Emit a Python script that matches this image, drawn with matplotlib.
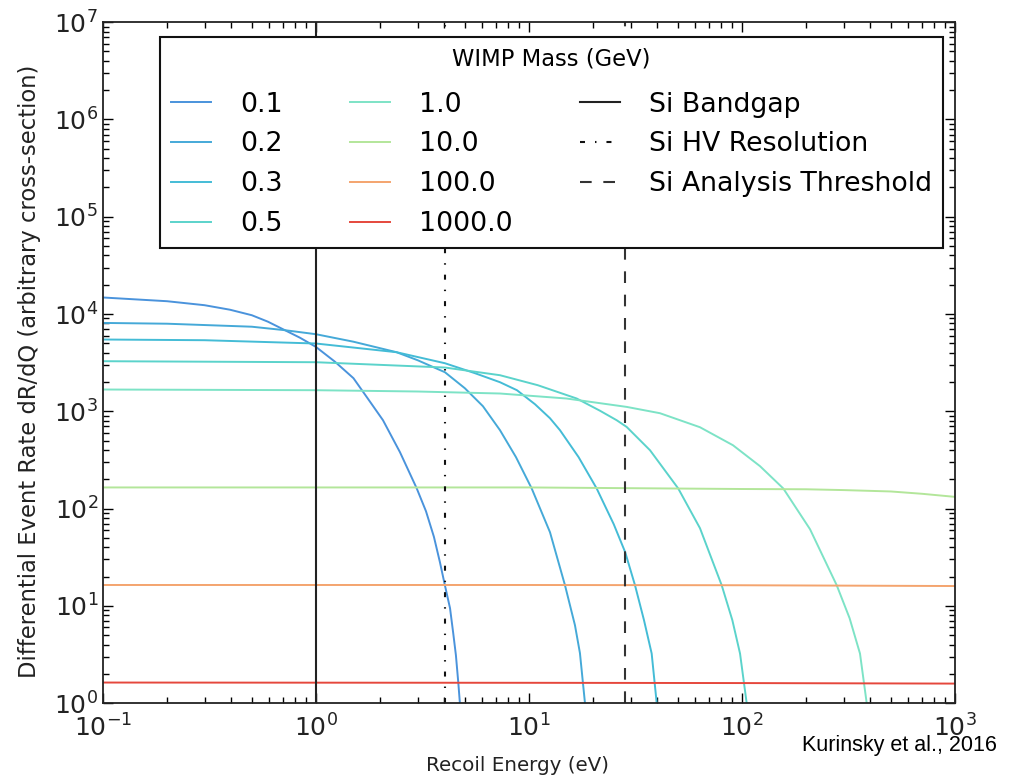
import matplotlib
matplotlib.use('Agg')
import matplotlib.pyplot as plt

# WIMP masses (GeV) and read-off curves: recoil energy (eV) vs dR/dQ
MASSES = ['0.1', '0.2', '0.3', '0.5', '1.0', '10.0', '100.0', '1000.0']

x_01 = [0.1, 0.2, 0.3, 0.395, 0.5, 0.595, 0.715, 0.841, 1.0, 1.228, 1.5, 1.73,
        2.064, 2.48, 2.97, 3.285, 3.58, 3.82, 4.03, 4.26, 4.41, 4.54, 4.66, 4.74]
y_01 = [14790, 13540, 12320, 11070, 9720, 8340, 6820, 5710, 4590, 3235, 2190, 1406,
        810, 380, 162, 94, 51.2, 28.1, 16.3, 9.47, 5.24, 3.11, 1.61, 1.0]

x_02 = [0.1, 0.2, 0.5, 0.715, 1.0, 1.5, 2.39, 3.0, 4.03, 5.0, 6.08, 7.31, 8.69,
        10.3, 12.55, 14.76, 16.44, 17.35, 18.32]
y_02 = [8100, 7950, 7405, 6820, 6200, 5193, 4050, 3352, 2523, 1727, 1128, 640, 338,
        161, 57.2, 16.3, 6.33, 3.27, 1.0]

x_03 = [0.1, 0.3, 1.0, 2.39, 4.03, 5.58, 7.31, 8.78, 10.67, 12.55, 13.98, 17.1,
        20.79, 25.0, 28.3, 31.46, 34.67, 37.67, 39.78]
y_03 = [5470, 5380, 4976, 4050, 3121, 2464, 1991, 1648, 1183, 849, 640, 338,
        161, 69.1, 35.6, 16.3, 7.13, 3.24, 1.0]

x_05 = [0.1, 1.0, 4.03, 7.31, 11.0, 16.75, 21.54, 25.8, 28.75, 37.0, 50.2, 63.5,
        80.3, 90.1, 97.9, 105.2]
y_05 = [3273, 3196, 2819, 2350, 1855, 1354, 1014, 810, 691, 398, 161, 62.9,
        16.3, 7.13, 3.24, 1.0]

x_1 = [0.1, 1.0, 3.0, 7.31, 15.0, 28.75, 41.2, 63.5, 90.7, 121.5, 156.3,
       208.6, 278.4, 320, 358, 385]
y_1 = [1675, 1648, 1598, 1524, 1354, 1110, 956, 686, 448, 273, 161,
       61.4, 16.3, 7.47, 3.24, 1.0]

x_10 = [0.1, 10, 100, 200, 300, 500, 700, 1000]
y_10 = [165, 165, 159, 158, 155, 150, 142, 132]

x_100 = [0.1, 10, 100, 1000]
y_100 = [16.4, 16.4, 16.3, 16.0]

x_1000 = [0.1, 10, 100, 1000]
y_1000 = [1.63, 1.62, 1.61, 1.59]

# thresholds (eV)
SI_BANDGAP = 1.0
SI_HV_RES = 4.03
SI_ANALYSIS = 28.3

COLOURS = ['#4a93dc', '#45a9d8', '#44bcd6', '#5bd3cb', '#7de3c6',
           '#b3e69a', '#f4a46e', '#e5473c']

curves = [(x_01, y_01), (x_02, y_02), (x_03, y_03), (x_05, y_05),
          (x_1, y_1), (x_10, y_10), (x_100, y_100), (x_1000, y_1000)]

plt.rcParams['font.family'] = 'DejaVu Sans'
plt.rcParams['axes.unicode_minus'] = False

fig = plt.figure(figsize=(10.09, 7.77), dpi=100)
ax = fig.add_axes([0.102, 0.095, 0.8445, 0.8765])

for (xs, ys), mass, colour in zip(curves, MASSES, COLOURS):
    ax.plot(xs, ys, color=colour, lw=1.4, label=mass)

ax.axvline(SI_BANDGAP, color='#222222', lw=1.5, ls='-', label='Si Bandgap')
ax.axvline(SI_HV_RES, color='#111111', lw=1.5, ls=(0, (2.4, 4.8, 0.7, 4.8)),
           label='Si HV Resolution')
ax.axvline(SI_ANALYSIS, color='#333333', lw=1.5, ls=(0, (5.6, 5.6)),
           label='Si Analysis Threshold')

ax.set_xscale('log')
ax.set_yscale('log')
ax.set_xlim(0.1, 1000)
ax.set_ylim(1, 1e7)

ax.tick_params(which='both', direction='in', top=True, right=True, labelsize=18,
               labelcolor='#222222')
ax.tick_params(which='major', length=7, width=1)
ax.tick_params(which='minor', length=4, width=1)
ax.tick_params(axis='x', pad=8)
for spine in ax.spines.values():
    spine.set_linewidth(1.3)
    spine.set_color('#222222')

ax.set_xlabel('Recoil Energy (eV)', fontsize=14.3, color='#222222')
ax.set_ylabel('Differential Event Rate dR/dQ (arbitrary cross-section)',
              fontsize=16.3, color='#222222')
ax.xaxis.set_label_coords(0.486, -0.077)
ax.yaxis.set_label_coords(-0.073, 0.488)

leg = ax.legend(ncol=3, loc='upper left', bbox_to_anchor=(0.067, 0.668, 0.919, 0.31),
                mode='expand', fontsize=19.3, title='WIMP Mass (GeV)',
                title_fontsize=16.3, fancybox=False, framealpha=1,
                handlelength=1.5, handletextpad=1.08, borderaxespad=0,
                borderpad=0.4, labelspacing=0.515)
leg._legend_box.sep = 15
leg.get_frame().set_edgecolor('#111111')
leg.get_frame().set_linewidth(1.5)

fig.text(0.988, 0.04, 'Kurinsky et al., 2016', family='Liberation Sans',
         fontsize=15.5, ha='right', va='center')

fig.savefig('out.png', dpi=100, facecolor='white')
